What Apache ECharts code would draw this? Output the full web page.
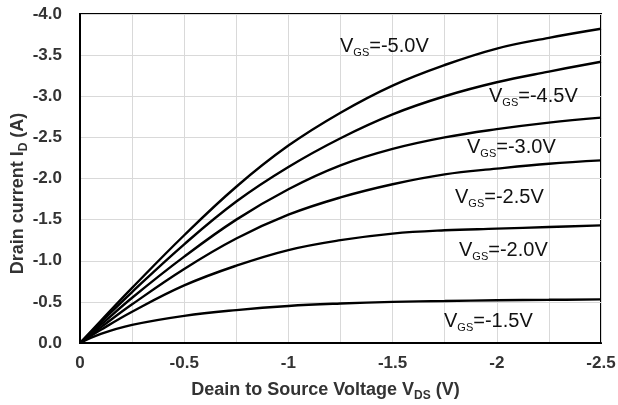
<!DOCTYPE html>
<html>
<head>
<meta charset="utf-8">
<script src="https://cdn.jsdelivr.net/npm/echarts@6/dist/echarts.min.js"></script>
<style>
html,body{margin:0;padding:0;background:#fff;}
#chart{width:618px;height:405px;}
</style>
</head>
<body>
<div id="chart"></div>
<script>
// Drain-source voltage (V)
const vds = [0, -0.1, -0.25, -0.5, -0.75, -1, -1.25, -1.5, -1.75, -2, -2.25, -2.5];
// Drain current (A) for each gate-source voltage
const id_vgs_5_0 = [0, -0.27, -0.67, -1.31, -1.90, -2.40, -2.80, -3.13, -3.38, -3.58, -3.71, -3.82];
const id_vgs_4_5 = [0, -0.25, -0.62, -1.20, -1.72, -2.14, -2.49, -2.78, -3.00, -3.17, -3.30, -3.42];
const id_vgs_3_0 = [0, -0.22, -0.55, -1.05, -1.50, -1.87, -2.16, -2.36, -2.50, -2.60, -2.68, -2.74];
const id_vgs_2_5 = [0, -0.19, -0.47, -0.90, -1.27, -1.56, -1.77, -1.93, -2.05, -2.12, -2.18, -2.22];
const id_vgs_2_0 = [0, -0.16, -0.38, -0.70, -0.94, -1.13, -1.25, -1.33, -1.37, -1.39, -1.41, -1.43];
const id_vgs_1_5 = [0, -0.11, -0.22, -0.33, -0.40, -0.45, -0.48, -0.50, -0.51, -0.52, -0.525, -0.53];
const vgsLabels = ['-5.0V', '-4.5V', '-3.0V', '-2.5V', '-2.0V', '-1.5V'];
const xTickLabels = ['0', '-0.5', '-1', '-1.5', '-2', '-2.5'];
const yTickLabels = ['0.0', '-0.5', '-1.0', '-1.5', '-2.0', '-2.5', '-3.0', '-3.5', '-4.0'];

const curves = [id_vgs_5_0, id_vgs_4_5, id_vgs_3_0, id_vgs_2_5, id_vgs_2_0, id_vgs_1_5];
const FONT = '"Liberation Sans", Arial, sans-serif';
const chart = echarts.init(document.getElementById('chart'), null, {renderer: 'canvas'});

function xLabel(v) {
  const k = Math.round(-v * 2);
  if (Math.abs(-v * 2 - k) > 1e-6) return '';
  return xTickLabels[k] || '';
}
function yLabel(v) {
  const k = Math.round(-v * 2);
  if (Math.abs(-v * 2 - k) > 1e-6) return '';
  return yTickLabels[k] || '';
}

const labelPos = [
  [340, 46], [489, 96], [467, 147], [455, 197], [459, 250], [444, 321]
];

const series = curves.map((c, i) => ({
  type: 'line',
  name: 'VGS=' + vgsLabels[i],
  data: vds.map((x, j) => [x, c[j]]),
  smooth: 0.4,
  showSymbol: false,
  lineStyle: {color: '#000', width: 2.4},
  z: 5
}));

chart.setOption({
  animation: false,
  backgroundColor: '#fff',
  grid: {left: 80, right: 17, top: 14, bottom: 62, containLabel: false, outerBoundsMode: 'none',
    show: true, borderColor: '#000', borderWidth: 2, backgroundColor: 'transparent'},
  xAxis: {
    type: 'value', min: -2.5, max: 0, interval: 0.25, inverse: true,
    axisLine: {show: true, lineStyle: {color: '#000', width: 2}},
    axisTick: {show: false},
    splitLine: {show: true, lineStyle: {color: '#d9d9d9', width: 1}},
    axisLabel: {formatter: xLabel, color: '#333', fontFamily: FONT, fontWeight: 'bold', fontSize: 17, margin: 12, showMinLabel: true, showMaxLabel: true},
    name: 'Deain to Source Voltage V{sub|DS} (V)',
    nameLocation: 'middle', nameGap: 38, nameMoveOverlap: false,
    nameTextStyle: {color: '#333', fontFamily: FONT, fontWeight: 'bold', fontSize: 18, padding: [0, 30, 0, 0],
      rich: {sub: {fontFamily: FONT, fontWeight: 'bold', fontSize: 12, color: '#333', verticalAlign: 'bottom', padding: [0,0,-3,0]}}}
  },
  yAxis: {
    type: 'value', min: -4, max: 0, interval: 0.5, inverse: true,
    axisLine: {show: true, lineStyle: {color: '#000', width: 2}},
    axisTick: {show: false},
    splitLine: {show: true, lineStyle: {color: '#d9d9d9', width: 1}},
    axisLabel: {formatter: yLabel, color: '#333', fontFamily: FONT, fontWeight: 'bold', fontSize: 17, margin: 18, showMinLabel: true, showMaxLabel: true},
    name: 'Drain current I{sub|D} (A)',
    nameLocation: 'middle', nameGap: 53, nameRotate: 90, nameMoveOverlap: false,
    nameTextStyle: {color: '#333', fontFamily: FONT, fontWeight: 'bold', fontSize: 18, padding: [0, 30, 0, 0],
      rich: {sub: {fontFamily: FONT, fontWeight: 'bold', fontSize: 12, color: '#333', verticalAlign: 'bottom', padding: [0,0,-3,0]}}}
  },
  graphic: vgsLabels.map((t, i) => ({
    type: 'text',
    x: labelPos[i][0], y: labelPos[i][1],
    z: 10,
    style: {
      text: '{m|V}{s|GS}{m|=' + t + '}',
      verticalAlign: 'middle', align: 'left',
      fill: '#111',
      rich: {
        m: {fontFamily: FONT, fontSize: 20, fill: '#111', color: '#111'},
        s: {fontFamily: FONT, fontSize: 11, fill: '#111', color: '#111', verticalAlign: 'bottom', padding: [0,0,-2,0]}
      }
    }
  })),
  series: series
});
</script>
</body>
</html>
